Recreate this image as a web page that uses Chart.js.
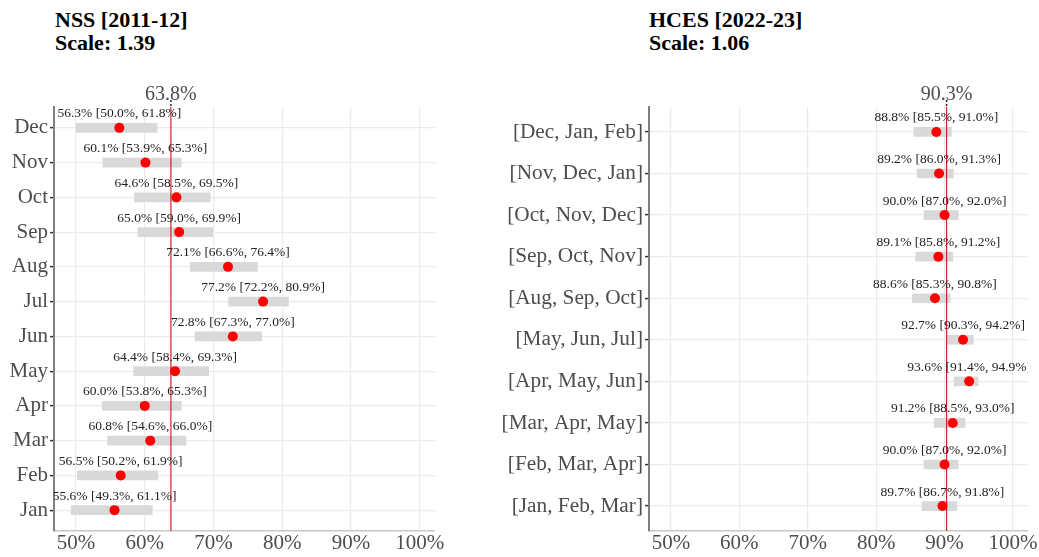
<!DOCTYPE html>
<html>
<head>
<meta charset="utf-8">
<script src="https://cdn.jsdelivr.net/npm/chart.js@4.4.1/dist/chart.umd.min.js"></script>
<style>
  body { margin: 0; background: #fff; width: 1039px; height: 557px; overflow: hidden; position: relative; font-family: "Liberation Serif", "Times New Roman", serif; }
  .title { position: absolute; top: 8px; font-weight: bold; font-size: 22px; line-height: 23px; color: #000; font-family: "Liberation Serif", serif; }
  #c1 { position: absolute; left: 0; top: 0; }
  #c2 { position: absolute; left: 490px; top: 0; }
</style>
</head>
<body>
<div class="title" style="left:55px">NSS [2011-12]<br>Scale: 1.39</div>
<div class="title" style="left:649px">HCES [2022-23]<br>Scale: 1.06</div>
<canvas id="c1" width="445" height="557"></canvas>
<canvas id="c2" width="549" height="557"></canvas>
<script>
// x axis ticks (percent)
const xTicks = [50, 60, 70, 80, 90, 100];

// NSS 2011-12, bottom to top
const nssCats = ['Jan', 'Feb', 'Mar', 'Apr', 'May', 'Jun', 'Jul', 'Aug', 'Sep', 'Oct', 'Nov', 'Dec'];
const nssEst  = [55.6, 56.5, 60.8, 60.0, 64.4, 72.8, 77.2, 72.1, 65.0, 64.6, 60.1, 56.3];
const nssLow  = [49.3, 50.2, 54.6, 53.8, 58.4, 67.3, 72.2, 66.6, 59.0, 58.5, 53.9, 50.0];
const nssHigh = [61.1, 61.9, 66.0, 65.3, 69.3, 77.0, 80.9, 76.4, 69.9, 69.5, 65.3, 61.8];
const nssMean = 63.8;

// HCES 2022-23, bottom to top
const hcesCats = ['[Jan, Feb, Mar]', '[Feb, Mar, Apr]', '[Mar, Apr, May]', '[Apr, May, Jun]', '[May, Jun, Jul]',
                  '[Aug, Sep, Oct]', '[Sep, Oct, Nov]', '[Oct, Nov, Dec]', '[Nov, Dec, Jan]', '[Dec, Jan, Feb]'];
const hcesEst  = [89.7, 90.0, 91.2, 93.6, 92.7, 88.6, 89.1, 90.0, 89.2, 88.8];
const hcesLow  = [86.7, 87.0, 88.5, 91.4, 90.3, 85.3, 85.8, 87.0, 86.0, 85.5];
const hcesHigh = [91.8, 92.0, 93.0, 94.9, 94.2, 90.8, 91.2, 92.0, 91.3, 91.0];
const hcesMean = 90.3;

Chart.defaults.font.family = '"Liberation Serif", "Times New Roman", serif';
const pct = v => v.toFixed(1) + '%';

function makeChart(id, cats, est, lo, hi, mean, yWidth, padRight, yFontSize) {
  const overlay = {
    id: 'overlay',
    beforeDatasetDraw(chart, args) {
      if (args.index !== 0) return;
      // mean line between the bars and the points
      const ctx = chart.ctx, a = chart.chartArea;
      const mx = chart.scales.x.getPixelForValue(mean);
      ctx.save();
      ctx.strokeStyle = '#c62828';
      ctx.lineWidth = 1.2;
      ctx.beginPath();
      ctx.moveTo(mx, a.top);
      ctx.lineTo(mx, a.bottom);
      ctx.stroke();
      ctx.restore();
    },
    afterDatasetsDraw(chart) {
      const ctx = chart.ctx, a = chart.chartArea;
      const xs = chart.scales.x, ys = chart.scales.y;
      ctx.save();
      ctx.beginPath();
      ctx.rect(a.left, a.top, a.right - a.left, a.bottom - a.top);
      ctx.clip();
      ctx.font = '13.5px "Liberation Serif", serif';
      ctx.fillStyle = '#222';
      ctx.textAlign = 'center';
      ctx.textBaseline = 'middle';
      est.forEach((v, i) => {
        ctx.fillText(pct(v) + ' [' + pct(lo[i]) + ', ' + pct(hi[i]) + ']',
          xs.getPixelForValue(v), ys.getPixelForValue(i) - 14);
      });
      ctx.restore();

      // mean tick and label above the panel
      const mx = xs.getPixelForValue(mean);
      ctx.save();
      ctx.strokeStyle = '#222';
      ctx.lineWidth = 1.5;
      ctx.setLineDash([2, 2]);
      ctx.beginPath();
      ctx.moveTo(mx, a.top - 7);
      ctx.lineTo(mx, a.top);
      ctx.stroke();
      ctx.setLineDash([]);
      ctx.font = '20px "Liberation Serif", serif';
      ctx.fillStyle = '#4d4d4d';
      ctx.textAlign = 'center';
      ctx.textBaseline = 'alphabetic';
      ctx.fillText(pct(mean), mx, a.top - 7);
      ctx.restore();
    }
  };

  return new Chart(document.getElementById(id), {
    type: 'scatter',
    data: {
      datasets: [
        {
          type: 'scatter',
          data: est.map((v, i) => ({ x: v, y: i })),
          pointRadius: 5,
          pointBackgroundColor: '#ff0000',
          pointBorderWidth: 0,
          showLine: false
        },
        {
          type: 'bar',
          indexAxis: 'y',
          data: est.map((v, i) => ({ y: i, x: [lo[i], hi[i]] })),
          backgroundColor: '#d9d9d9',
          barThickness: 9
        }
      ]
    },
    options: {
      responsive: false,
      animation: false,
      events: [],
      layout: { padding: { top: 107, right: padRight, left: 0, bottom: 0 } },
      plugins: { legend: { display: false }, tooltip: { enabled: false } },
      scales: {
        x: {
          type: 'linear',
          min: 46.8,
          max: 102.2,
          offset: false,
          afterBuildTicks: axis => { axis.ticks = xTicks.map(v => ({ value: v })); },
          afterFit: axis => { axis.height = 26; },
          grid: { offset: false, color: '#ebebeb', lineWidth: 1.2, drawTicks: false },
          border: { display: true, color: '#c8c8c8', width: 1.5 },
          ticks: { callback: v => v + '%', color: '#4d4d4d', font: { size: 21 }, padding: 0, maxRotation: 0 }
        },
        y: {
          type: 'linear',
          min: -0.6,
          max: cats.length - 0.4,
          offset: false,
          afterBuildTicks: axis => { axis.ticks = cats.map((c, i) => ({ value: i })); },
          afterFit: axis => { axis.width = yWidth; },
          grid: { offset: false, color: '#ebebeb', lineWidth: 1.2, tickLength: 4, tickColor: '#333', tickWidth: 1.5 },
          border: { display: true, color: '#7f7f7f', width: 2 },
          ticks: { callback: v => cats[v], color: '#4d4d4d', font: { size: yFontSize }, padding: 2, autoSkip: false }
        }
      }
    },
    plugins: [overlay]
  });
}

makeChart('c1', nssCats, nssEst, nssLow, nssHigh, nssMean, 54, 10, 21);
makeChart('c2', hcesCats, hcesEst, hcesLow, hcesHigh, hcesMean, 159, 11, 21.3);
</script>
</body>
</html>
